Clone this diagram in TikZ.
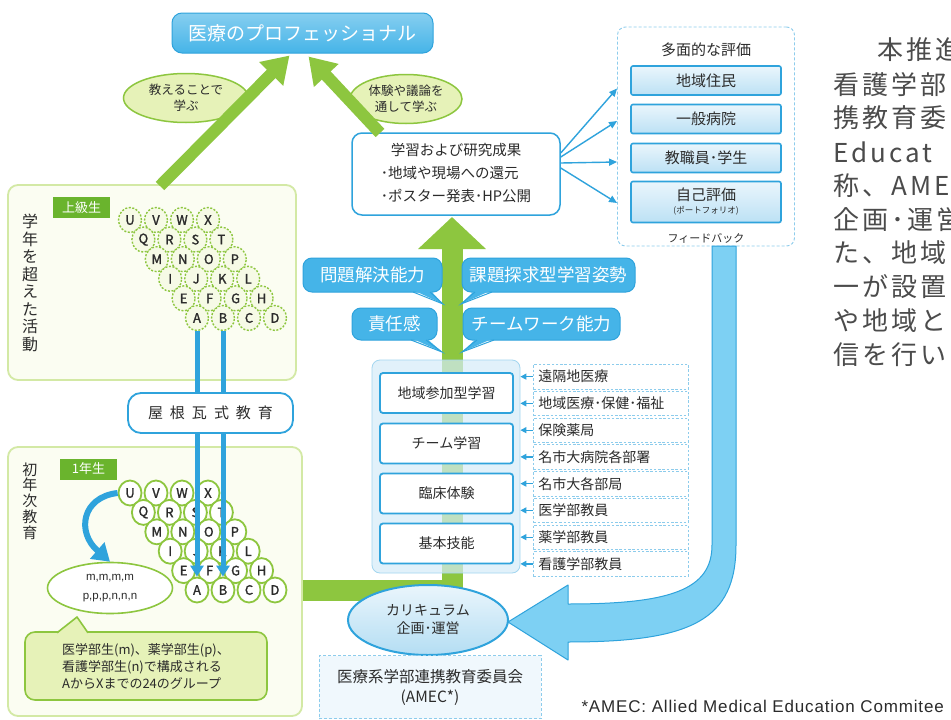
\documentclass[tikz,border=0pt]{standalone}
\usepackage{fontspec}
\setmainfont{Noto Sans CJK JP}
\newfontfamily\jpb[FakeBold=1.5]{Noto Sans CJK JP}
\newfontfamily\parafont[LetterSpace=12]{Noto Sans CJK JP}
\newfontfamily\latinf[LetterSpace=5]{Liberation Sans}
\newfontfamily\mfont{Liberation Sans}
\usetikzlibrary{shapes.geometric,arrows.meta,calc}
\definecolor{bB}{HTML}{2FA3DC}
\definecolor{bF}{HTML}{45B4E8}
\definecolor{bL}{HTML}{D5ECF9}
\definecolor{bA}{HTML}{7DD0F3}
\definecolor{gA}{HTML}{8DC63F}
\definecolor{gD}{HTML}{6AB42D}
\definecolor{gL}{HTML}{E6F2B8}
\definecolor{gBox}{HTML}{D3E9A5}
\definecolor{gFill}{HTML}{FBFDF2}
\definecolor{txt}{HTML}{2B2B2B}
\newcommand\fsz[2]{\fontsize{#1}{#2}\selectfont}
\begin{document}
\begin{tikzpicture}[x=1pt,y=-1pt,text=txt,
  font=\fsz{12.5}{15},
  greenbox/.style={draw=gBox,line width=1.8pt,fill=gFill,rounded corners=10pt,inner sep=0pt},
  tagbox/.style={fill=gD,text=white,inner sep=0pt,font=\fsz{13}{14}},
  upcirc/.style={ellipse,draw=gA,dash pattern=on 2pt off 1.6pt,line width=1.4pt,fill=gL!35,minimum width=23pt,minimum height=25pt,inner sep=0pt,font=\jpb\fsz{13}{14}},
  lowcirc/.style={ellipse,draw=gA,line width=1.8pt,fill=white,minimum width=23pt,minimum height=25pt,inner sep=0pt,font=\jpb\fsz{13}{14}},
  garrow/.style={gA,line width=12pt,-{Triangle[width=32pt,length=26pt]}},
  thinarrow/.style={bB,line width=1.4pt,-{Triangle[width=7pt,length=8pt]}},
  bub/.style={fill=bF,draw=bB,line width=1pt,rounded corners=9pt,text=white,font=\fsz{17.5}{18},inner sep=0pt},
  inbox/.style={draw=bB,line width=1.8pt,fill=white,rounded corners=3pt,minimum width=133pt,minimum height=40pt,inner sep=0pt,font=\fsz{14}{15}},
  rowbox/.style={draw=bB!55,dash pattern=on 2.5pt off 1.8pt,line width=0.8pt,minimum height=24.5pt,text width=145pt,inner xsep=5pt,inner ysep=0pt,align=left,anchor=north west,font=\fsz{14}{15}},
  evalin/.style={draw=bB,line width=1.6pt,top color=bL!50!white,bottom color=bL!85!bB,rounded corners=2pt,minimum width=150pt,minimum height=29pt,inner sep=0pt,font=\fsz{15}{16}},
]
\useasboundingbox (0,0) rectangle (951,720);
\fill[white] (0,0) rectangle (951,720);

% ---------- left boxes ----------
\node[greenbox,minimum width=288pt,minimum height=195pt] (upbox) at (152,282.5) {};
\node[greenbox,minimum width=294pt,minimum height=269pt] (lowbox) at (155,581.5) {};
\node[tagbox,minimum width=57pt,minimum height=21pt] (tagU) at (81.5,207.5) {上級生};
\node[tagbox,minimum width=57pt,minimum height=21pt] (tag1) at (88.5,469) {1年生};
\node[align=center,font=\fsz{16}{17.5},inner sep=0pt] (vt1) at (30,283) {学\\年\\を\\超\\え\\た\\活\\動};
\node[align=center,font=\fsz{15}{15.8},inner sep=0pt] (vt2) at (30,501) {初\\年\\次\\教\\育};

\foreach \row/\lets in {0/{U,V,W,X},1/{Q,R,S,T},2/{M,N,O,P},3/{I,J,K,L},4/{E,F,G,H},5/{A,B,C,D}}{
  \foreach \L [count=\c from 0] in \lets {
    \node[upcirc] (u\L) at ({130+13.4*\row+26*\c},{220+19.6*\row}) {\L};
    \node[lowcirc] (l\L) at ({130+13.4*\row+26*\c},{493+19.4*\row}) {\L};
  }
}
\draw[bB,line width=5pt,-{Triangle[width=13pt,length=11pt]}] (uA.south) -- (lA.north);
\draw[bB,line width=5pt,-{Triangle[width=13pt,length=11pt]}] (uB.south) -- (lB.north);
\node[draw=bB,line width=1.8pt,fill=white,rounded corners=13pt,minimum width=165pt,minimum height=40pt,font=\fsz{15}{16}] (yane) at (210.5,413)
  {屋\hspace{7pt}根\hspace{7pt}瓦\hspace{7pt}式\hspace{7pt}教\hspace{7pt}育};

\node[ellipse,draw=gA,line width=1.6pt,fill=white,minimum width=125pt,minimum height=51pt,inner sep=0pt,align=center,font=\mfont\fsz{11.5}{19}] (mell) at (110,588) {m,m,m,m\\p,p,p,n,n,n};
\draw[bB,line width=6pt,-{Triangle[width=21pt,length=17pt]}] (lU.west) .. controls (82,497) and (76,532) .. (mell.north);
\node[fill=gL,draw=gA,line width=1.6pt,rounded corners=10pt,minimum width=242pt,minimum height=68pt,align=left,font=\fsz{13}{17}] (call) at (146,666)
  {医学部生(m)、薬学部生(p)、\\看護学部生(n)で構成される\\AからXまでの24のグループ};
\fill[gL] (57,634) -- (77,617) -- (88,634) -- cycle;
\draw[gA,line width=1.6pt,line join=round] (57,632.8) -- (77,617) -- (88,632.8);

% ---------- central green shaft ----------
\coordinate (shafttop) at (452,217);
\draw[gA,line width=21pt,line join=miter,-{Triangle[width=66pt,length=32pt]}] (lowbox.east |- 0,590) -- (452,590) -- (shafttop);

% ---------- curriculum list ----------
\node[fill=bL,fill opacity=0.7,draw=bL!70!bB,line width=0.8pt,rounded corners=8pt,minimum width=148pt,minimum height=213pt] (curr) at (446,466.5) {};
\node[inbox] (k1) at (446.5,393) {地域参加型学習};
\node[inbox] (k2) at (446.5,443.5) {チーム学習};
\node[inbox] (k3) at (446.5,493.5) {臨床体験};
\node[inbox] (k4) at (446.5,543.5) {基本技能};
\foreach \t [count=\i from 0] in {遠隔地医療,地域医療･保健･福祉,保険薬局,名市大病院各部署,名市大各部局,医学部教員,薬学部教員,看護学部教員}{
  \node[rowbox] (r\i) at (533,{364+26.75*\i}) {\t};
  \draw[thinarrow,line width=1.2pt,-{Triangle[width=6pt,length=6pt]}] (r\i.west) -- (r\i.west -| curr.east);
}

\node[ellipse,draw=bB,line width=2pt,top color=bL!50!white,bottom color=bL!80!bB,minimum width=160pt,minimum height=70pt,inner sep=0pt,align=center,font=\fsz{14}{18}] (cur) at (428,620) {カリキュラム\\企画･運営};
\node[draw=bB!55,dash pattern=on 3pt off 2pt,line width=0.9pt,fill=bL!35,minimum width=222pt,minimum height=63pt,align=center,font=\fsz{15.5}{20}] (amec) at (430,687) {医療系学部連携教育委員会\\(AMEC*)};

% ---------- bubbles ----------
\node[bub,minimum width=139pt,minimum height=34pt] (b1) at (372.5,275) {問題解決能力};
\fill[bF] (413,290) -- (443,304) -- (430,290) -- cycle;
\draw[bB,line width=1pt] (413,292) -- (443,304) -- (430,292);
\node[bub,minimum width=173pt,minimum height=34pt] (b2) at (548.5,275) {課題探求型学習姿勢};
\fill[bF] (475,290) -- (461,304) -- (492,290) -- cycle;
\draw[bB,line width=1pt] (475,292) -- (461,304) -- (492,292);
\node[bub,minimum width=85pt,minimum height=32pt] (b3) at (394.5,324) {責任感};
\fill[bF] (411,338) -- (442,352) -- (426,338) -- cycle;
\draw[bB,line width=1pt] (411,340) -- (442,352) -- (426,340);
\node[bub,minimum width=157pt,minimum height=32pt] (b4) at (541.5,324) {チームワーク能力};
\fill[bF] (477,338) -- (462,352) -- (494,338) -- cycle;
\draw[bB,line width=1pt] (477,340) -- (462,352) -- (494,340);

% ---------- top ----------
\node[draw=bB,line width=1pt,top color=bF!65!white,bottom color=bF,rounded corners=10pt,minimum width=261pt,minimum height=40pt,text=white,font=\fsz{19}{20}] (title) at (302.5,33) {医療のプロフェッショナル};
\node[ellipse,draw=gA,line width=1.5pt,fill=gL,minimum width=125pt,minimum height=49pt,inner sep=0pt,align=center,font=\fsz{12.5}{16}] (teach) at (186,98) {教えることで\\学ぶ};
\node[ellipse,draw=gA,line width=1.5pt,fill=gL,minimum width=112pt,minimum height=49pt,inner sep=0pt,align=center,font=\fsz{12.5}{16}] (exper) at (406,99) {体験や議論を\\通して学ぶ};
\node[draw=bB,line width=1.5pt,fill=white,rounded corners=10pt,minimum width=208pt,minimum height=82pt,inner sep=0pt,font=\fsz{14.5}{23}] (res) at (456,174)
  {\begin{tabular}{@{}l@{}}\multicolumn{1}{@{}c@{}}{学習および研究成果}\\･地域や現場への還元\\･ポスター発表･HP公開\end{tabular}};
\coordinate (la) at (160,186);
\coordinate (ra) at (380,133);
\draw[garrow] (la) -- ($(title.south)+(-13,2)$);
\draw[garrow] (ra) -- ($(title.south)+(6,3)$);

% ---------- evaluation ----------
\node[draw=bB!55,dash pattern=on 3pt off 2pt,line width=0.9pt,rounded corners=8pt,minimum width=177pt,minimum height=219pt,fill=white] (evalbox) at (706,136.5) {};
\node[font=\fsz{15}{16}] (evtitle) at (706,50) {多面的な評価};
\node[evalin] (e1) at (706,80.5) {地域住民};
\node[evalin] (e2) at (706,119) {一般病院};
\node[evalin] (e3) at (706,158) {教職員･学生};
\node[evalin,minimum height=41pt,align=center] (e4) at (706,202) {自己評価\\[-3pt]{\fsz{8.5}{9}(ポートフォリオ)}};
\node[font=\fsz{11}{12}] (fb) at (706,238) {フィードバック};
\draw[thinarrow] ($(res.east)+(0,-21)$) -- ($(evalbox.west |- e1)+(0,8)$);
\draw[thinarrow] ($(res.east)+(0,-17)$) -- ($(evalbox.west |- e2)+(0,2)$);
\draw[thinarrow] ($(res.east)+(0,-11)$) -- ($(evalbox.west |- e3)+(0,4)$);
\draw[thinarrow] ($(res.east)+(0,-6)$) -- ($(evalbox.west |- e4)+(0,1)$);

% ---------- feedback arrow ----------
\draw[bB,line width=1pt,fill=bA,line join=round]
  (736,246) -- (736,545) .. controls (736,620) and (692,642) .. (568,642) -- (568,660) -- (508,622) -- (568,585) -- (568,604)
  .. controls (670,604) and (712,590) .. (712,545) -- (712,246) -- cycle;

% ---------- footnote and paragraph ----------
\node[anchor=west,font=\latinf\fsz{17}{18}] (foot) at (578,706) {*AMEC: Allied Medical Education Commitee};
\begin{scope}
\clip (0,0) rectangle (951,720);
\foreach \px/\py/\t [count=\j] in {877/50/本推進,833/85/看護学部,833/118/携教育委,833/152/Educat,833/186/称、AME,833/220/企画･運営,833/253/た、地域,833/287/一が設置,833/321/や地域と,833/355/信を行い}{
  \node[anchor=west,inner sep=0pt,font=\parafont\fsz{26}{28},text=txt!85] (p\j) at (\px,\py) {\t};
}
\end{scope}
\end{tikzpicture}
\end{document}
